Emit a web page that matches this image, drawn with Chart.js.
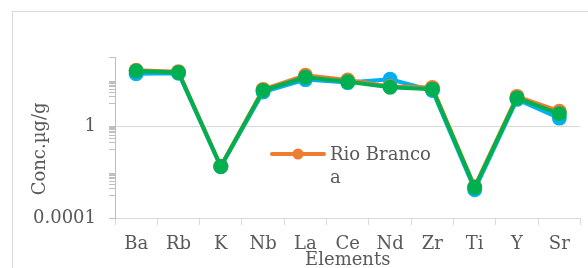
<!DOCTYPE html>
<html>
<head>
<meta charset="utf-8">
<script src="https://cdn.jsdelivr.net/npm/chart.js@4"></script>
<style>
html,body{margin:0;padding:0;background:#fff;}
#wrap{position:relative;width:588px;height:268px;}
</style>
</head>
<body>
<div id="wrap"><canvas id="c" width="588" height="268"></canvas></div>
<script>
const elements = ['Ba','Rb','K','Nb','La','Ce','Nd','Zr','Ti','Y','Sr'];
const seriesBlue   = [188, 198, 0.0170, 30, 104, 77, 107, 35, 0.0017, 14.4, 2.2];
const seriesOrange = [265, 230, 0.0178, 39, 162, 99, 52, 47, 0.0023, 19.4, 4.4];
const seriesGreen  = [245, 214, 0.0174, 35, 131, 83, 48.5, 40, 0.0021, 16.3, 3.4];
const yLabelValues = [0.0001, 1];
const yMinorTicks = [0.001,0.002,0.003,0.004,0.005,0.006,0.007,0.008,0.009,
                     0.1,0.2,0.3,0.4,0.5,0.6,0.7,0.8,0.9,
                     10,20,30,40,50,60,70,80,90,1000];
const legendLabel = ['Rio Branco', 'a'];

const FONT = "'DejaVu Serif', serif";
const TEXT = '#595959';
const GRID = '#d9d9d9';

const frame = {
  id: 'frame',
  beforeDraw(chart) {
    const ctx = chart.ctx;
    ctx.save();
    ctx.strokeStyle = GRID;
    ctx.lineWidth = 1;
    ctx.strokeRect(12.5, 11.5, 600, 300);
    ctx.restore();
  }
};

const legendInside = {
  id: 'legendInside',
  afterDatasetsDraw(chart) {
    const ctx = chart.ctx;
    ctx.save();
    ctx.strokeStyle = '#ED7D31';
    ctx.fillStyle = '#ED7D31';
    ctx.lineWidth = 4;
    ctx.lineCap = 'round';
    ctx.beginPath();
    ctx.moveTo(272, 154);
    ctx.lineTo(324, 154);
    ctx.stroke();
    ctx.beginPath();
    ctx.arc(298, 154, 5.5, 0, Math.PI * 2);
    ctx.fill();
    ctx.fillStyle = TEXT;
    ctx.font = "18px " + FONT;
    ctx.textBaseline = 'middle';
    ctx.textAlign = 'left';
    ctx.fillText(legendLabel[0], 330, 155);
    ctx.fillText(legendLabel[1], 330, 178);
    ctx.restore();
  }
};

function ds(label, data, color, order) {
  return {
    label, data, order,
    borderColor: color,
    backgroundColor: color,
    pointBackgroundColor: color,
    pointBorderWidth: 0,
    pointRadius: 7.5,
    borderWidth: 4,
    tension: 0,
    fill: false
  };
}

new Chart(document.getElementById('c'), {
  type: 'line',
  data: {
    labels: elements,
    datasets: [
      ds('Series A', seriesBlue, '#00B0F0', 3),
      ds('Rio Branco a', seriesOrange, '#ED7D31', 2),
      ds('Series C', seriesGreen, '#00B050', 1)
    ]
  },
  options: {
    responsive: false,
    animation: false,
    devicePixelRatio: 1,
    layout: { padding: { left: 0, top: 57, right: 5, bottom: 0 } },
    plugins: { legend: { display: false }, tooltip: { enabled: false } },
    scales: {
      x: {
        type: 'category',
        offset: true,
        afterFit(s) { s.height = 50; },
        grid: { offset: true, drawOnChartArea: false, color: GRID, tickLength: 7 },
        border: { color: GRID },
        ticks: { color: TEXT, font: { family: FONT, size: 18 }, padding: 9, maxRotation: 0, autoSkip: false },
        title: { display: true, text: 'Elements', color: TEXT, font: { family: FONT, size: 18 }, padding: { top: 0, bottom: -3 } }
      },
      y: {
        type: 'logarithmic',
        min: 0.0001,
        max: 1000,
        afterFit(s) { s.width = 115; },
        afterBuildTicks(s) {
          const all = yLabelValues.concat(yMinorTicks).sort((a,b)=>a-b);
          s.ticks = all.map(v => ({ value: v }));
        },
        grid: {
          color: c => (c.tick && c.tick.value === 1) ? GRID : 'rgba(0,0,0,0)',
          tickColor: '#bfbfbf',
          tickLength: 6
        },
        border: { color: '#bfbfbf' },
        ticks: {
          autoSkip: false,
          color: TEXT,
          font: { family: FONT, size: 18 },
          padding: 13,
          callback: v => yLabelValues.includes(v) ? String(v) : ''
        },
        title: { display: true, text: 'Conc.µg/g    ', color: TEXT, font: { family: FONT, size: 18 }, padding: { top: 30, bottom: 0 } }
      }
    }
  },
  plugins: [frame, legendInside]
});
</script>
</body>
</html>
